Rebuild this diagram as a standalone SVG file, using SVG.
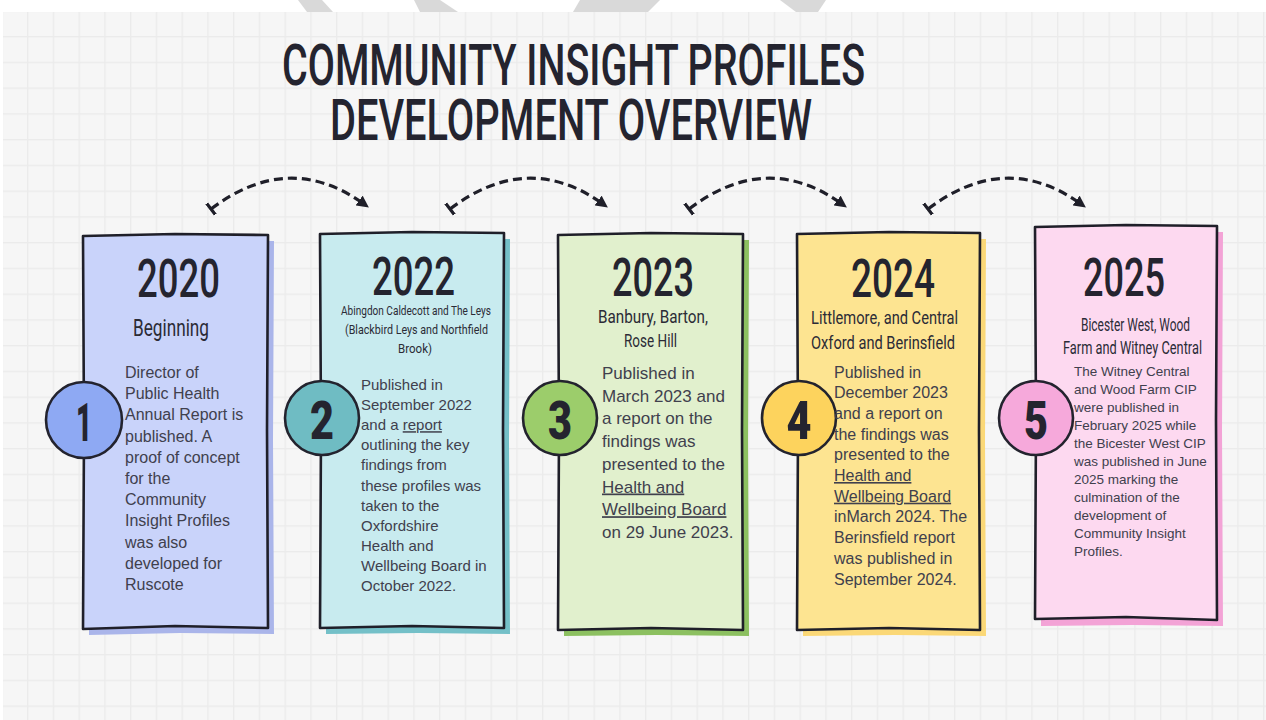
<svg xmlns="http://www.w3.org/2000/svg" width="1266" height="720" viewBox="0 0 1266 720">
  <defs>
    <pattern id="grid" x="27" y="36" width="25.75" height="25.75" patternUnits="userSpaceOnUse">
      <rect x="0" y="0" width="1.4" height="25.75" fill="#ebebeb"/>
      <rect x="0" y="0" width="25.75" height="1.4" fill="#ebebeb"/>
    </pattern>
    <marker id="head" viewBox="0 0 12 12" refX="6" refY="6" markerWidth="12" markerHeight="12" markerUnits="userSpaceOnUse" orient="auto">
      <path d="M0,0 L12,6 L0,12 Z" fill="#1f1f29"/>
    </marker>
    <marker id="tail" viewBox="0 0 4 14" refX="2" refY="7" markerWidth="4" markerHeight="14" markerUnits="userSpaceOnUse" orient="auto">
      <line x1="2" y1="0" x2="2" y2="14" stroke="#1f1f29" stroke-width="3.2" stroke-linecap="round"/>
    </marker>
    <style>
      .title { font-family: Roboto, "DejaVu Sans", sans-serif; font-weight: 500; font-size: 57px; fill: #24242f; }
      .year { font-family: Roboto, "DejaVu Sans", sans-serif; font-weight: 500; font-size: 54px; fill: #24242f; }
      .sub { font-family: Roboto, "DejaVu Sans", sans-serif; font-weight: 400; fill: #2b2b36; }
      .num { font-family: Roboto, "DejaVu Sans", sans-serif; font-weight: 900; font-size: 54px; fill: #24242f; text-anchor: middle; }
      .body { font-family: "Liberation Sans", Arial, sans-serif; fill: #40404d; }
      .u { text-decoration: underline; }
      .edge { stroke: #1f1f29; stroke-width: 2.6; stroke-linejoin: round; }
      .ring { stroke: #23232e; stroke-width: 2.6; }
      .link { fill: none; stroke: #1f1f29; stroke-width: 3.2; stroke-dasharray: 9 5; marker-start: url(#tail); marker-end: url(#head); }
    </style>
  </defs>

  <!-- page -->
  <rect x="0" y="0" width="1266" height="720" fill="#ffffff"/>
  <rect x="3" y="12" width="1263" height="708" fill="#f6f6f6"/>
  <rect x="3" y="12" width="1263" height="708" fill="url(#grid)"/>
  <g fill="#d9d9d9">
    <polygon points="298,0 322,0 333,12 307,12"/>
    <polygon points="414,0 440,0 458,12 420,12"/>
    <polygon points="580,0 660,0 648,12 573,12"/>
    <polygon points="780,0 826,0 818,12 796,12"/>
  </g>

  <!-- heading -->
  <g id="title">
    <text class="title" x="282" y="85" textLength="583" lengthAdjust="spacingAndGlyphs">COMMUNITY INSIGHT PROFILES</text>
    <text class="title" x="330" y="140" textLength="482" lengthAdjust="spacingAndGlyphs">DEVELOPMENT OVERVIEW</text>
  </g>

  <!-- dashed links between stages -->
  <g id="connectors">
    <path class="link" d="M211,209 Q289,150 364,204"/>
    <path class="link" d="M450,209 Q528,150 603,204"/>
    <path class="link" d="M689,209 Q767,150 842,204"/>
    <path class="link" d="M928,209 Q1006,150 1081,204"/>
  </g>

  <!-- stage 1 -->
  <g id="stage-2020">
    <path d="M89,241 L180,240 L274,241 L273,440 L274,634 L180,633 L89,635 L90,440 Z" fill="#aab5ea"/>
    <path class="edge" d="M83,236 L175,234 L268,235 L267,430 L268,628 L175,626 L83,629 L84,430 Z" fill="#c9d3fa"/>
    <circle class="ring" cx="84" cy="420" r="38" fill="#8ea9f3"/>
    <text class="num" x="84" y="441" textLength="16" lengthAdjust="spacingAndGlyphs">1</text>
    <text class="year" x="137" y="297" textLength="83" lengthAdjust="spacingAndGlyphs">2020</text>
    <text class="sub" x="133" y="336" font-size="24" textLength="76" lengthAdjust="spacingAndGlyphs">Beginning</text>
    <text class="body" font-size="16">
      <tspan x="125" y="378">Director of</tspan>
      <tspan x="125" y="399.2">Public Health</tspan>
      <tspan x="125" y="420.4">Annual Report is</tspan>
      <tspan x="125" y="441.6">published. A</tspan>
      <tspan x="125" y="462.8">proof of concept</tspan>
      <tspan x="125" y="484">for the</tspan>
      <tspan x="125" y="505.2">Community</tspan>
      <tspan x="125" y="526.4">Insight Profiles</tspan>
      <tspan x="125" y="547.6">was also</tspan>
      <tspan x="125" y="568.8">developed for</tspan>
      <tspan x="125" y="590">Ruscote</tspan>
    </text>
  </g>

  <!-- stage 2 -->
  <g id="stage-2022">
    <path d="M326,239 L418,238 L510,239 L509,440 L510,634 L418,633 L326,634 L327,440 Z" fill="#74c0c8"/>
    <path class="edge" d="M320,234 L412,232 L504,233 L503,430 L504,628 L412,626 L320,628 L321,430 Z" fill="#c8ebef"/>
    <circle class="ring" cx="322" cy="418" r="37" fill="#6fbcc3"/>
    <text class="num" x="322" y="439" textLength="24" lengthAdjust="spacingAndGlyphs">2</text>
    <text class="year" x="372" y="295" textLength="83" lengthAdjust="spacingAndGlyphs">2022</text>
    <text class="sub" font-size="13">
      <tspan x="341" y="315" textLength="150" lengthAdjust="spacingAndGlyphs">Abingdon Caldecott and The Leys</tspan>
      <tspan x="345" y="334" textLength="143" lengthAdjust="spacingAndGlyphs">(Blackbird Leys and Northfield</tspan>
      <tspan x="398" y="353" textLength="34" lengthAdjust="spacingAndGlyphs">Brook)</tspan>
    </text>
    <text class="body" font-size="15">
      <tspan x="361" y="390">Published in</tspan>
      <tspan x="361" y="410.1">September 2022</tspan>
      <tspan x="361" y="430.2">and a <tspan class="u">report</tspan></tspan>
      <tspan x="361" y="450.3">outlining the key</tspan>
      <tspan x="361" y="470.4">findings from</tspan>
      <tspan x="361" y="490.5">these profiles was</tspan>
      <tspan x="361" y="510.6">taken to the</tspan>
      <tspan x="361" y="530.7">Oxfordshire</tspan>
      <tspan x="361" y="550.8">Health and</tspan>
      <tspan x="361" y="570.9">Wellbeing Board in</tspan>
      <tspan x="361" y="591">October 2022.</tspan>
    </text>
  </g>

  <!-- stage 3 -->
  <g id="stage-2023">
    <path d="M564,240 L657,239 L749,240 L748,440 L749,636 L657,635 L564,636 L565,440 Z" fill="#8cc060"/>
    <path class="edge" d="M558,235 L651,233 L743,234 L742,430 L743,630 L651,628 L558,630 L559,430 Z" fill="#e1f0cd"/>
    <circle class="ring" cx="560" cy="418" r="37" fill="#9ccd6b"/>
    <text class="num" x="560" y="439" textLength="24" lengthAdjust="spacingAndGlyphs">3</text>
    <text class="year" x="612" y="296" textLength="82" lengthAdjust="spacingAndGlyphs">2023</text>
    <text class="sub" font-size="18">
      <tspan x="598" y="323" textLength="110" lengthAdjust="spacingAndGlyphs">Banbury, Barton,</tspan>
      <tspan x="624" y="347" textLength="53" lengthAdjust="spacingAndGlyphs">Rose Hill</tspan>
    </text>
    <text class="body" font-size="17">
      <tspan x="602" y="379">Published in</tspan>
      <tspan x="602" y="401.7">March 2023 and</tspan>
      <tspan x="602" y="424.4">a report on the</tspan>
      <tspan x="602" y="447.1">findings was</tspan>
      <tspan x="602" y="469.8">presented to the</tspan>
      <tspan x="602" y="492.5" class="u">Health and</tspan>
      <tspan x="602" y="515.2" class="u">Wellbeing Board</tspan>
      <tspan x="602" y="537.9">on 29 June 2023.</tspan>
    </text>
  </g>

  <!-- stage 4 -->
  <g id="stage-2024">
    <path d="M803,239 L895,238 L986,239 L985,440 L986,636 L895,635 L803,636 L804,440 Z" fill="#fbd877"/>
    <path class="edge" d="M797,234 L889,232 L980,233 L979,430 L980,630 L889,628 L797,630 L798,430 Z" fill="#fde491"/>
    <circle class="ring" cx="799" cy="418" r="37" fill="#fdd35d"/>
    <text class="num" x="799" y="439" textLength="25" lengthAdjust="spacingAndGlyphs">4</text>
    <text class="year" x="851" y="297" textLength="84" lengthAdjust="spacingAndGlyphs">2024</text>
    <text class="sub" font-size="18">
      <tspan x="811" y="324" textLength="147" lengthAdjust="spacingAndGlyphs">Littlemore, and Central</tspan>
      <tspan x="811" y="349" textLength="144" lengthAdjust="spacingAndGlyphs">Oxford and Berinsfield</tspan>
    </text>
    <text class="body" font-size="16">
      <tspan x="834" y="377.5">Published in</tspan>
      <tspan x="834" y="398.2">December 2023</tspan>
      <tspan x="834" y="418.9">and a report on</tspan>
      <tspan x="834" y="439.6">the findings was</tspan>
      <tspan x="834" y="460.3">presented to the</tspan>
      <tspan x="834" y="481" class="u">Health and</tspan>
      <tspan x="834" y="501.7" class="u">Wellbeing Board</tspan>
      <tspan x="834" y="522.4">inMarch 2024. The</tspan>
      <tspan x="834" y="543.1">Berinsfield report</tspan>
      <tspan x="834" y="563.8">was published in</tspan>
      <tspan x="834" y="584.5">September 2024.</tspan>
    </text>
  </g>

  <!-- stage 5 -->
  <g id="stage-2025">
    <path d="M1041,232 L1132,231 L1223,232 L1222,430 L1223,626 L1132,625 L1041,626 L1042,430 Z" fill="#f3a3d6"/>
    <path class="edge" d="M1035,227 L1126,225 L1217,226 L1216,420 L1217,620 L1126,617 L1035,619 L1036,420 Z" fill="#fdd9f0"/>
    <circle class="ring" cx="1036" cy="418" r="37" fill="#f6a9db"/>
    <text class="num" x="1036" y="439" textLength="24" lengthAdjust="spacingAndGlyphs">5</text>
    <text class="year" x="1083" y="296" textLength="82" lengthAdjust="spacingAndGlyphs">2025</text>
    <text class="sub" font-size="18">
      <tspan x="1081" y="331" textLength="109" lengthAdjust="spacingAndGlyphs">Bicester West, Wood</tspan>
      <tspan x="1063" y="354" textLength="139" lengthAdjust="spacingAndGlyphs">Farm and Witney Central</tspan>
    </text>
    <text class="body" font-size="13.5">
      <tspan x="1074" y="375.5">The Witney Central</tspan>
      <tspan x="1074" y="393.5">and Wood Farm CIP</tspan>
      <tspan x="1074" y="411.5">were published in</tspan>
      <tspan x="1074" y="429.5">February 2025 while</tspan>
      <tspan x="1074" y="447.5">the Bicester West CIP</tspan>
      <tspan x="1074" y="465.5">was published in June</tspan>
      <tspan x="1074" y="483.5">2025 marking the</tspan>
      <tspan x="1074" y="501.5">culmination of the</tspan>
      <tspan x="1074" y="519.5">development of</tspan>
      <tspan x="1074" y="537.5">Community Insight</tspan>
      <tspan x="1074" y="555.5">Profiles.</tspan>
    </text>
  </g>
</svg>
